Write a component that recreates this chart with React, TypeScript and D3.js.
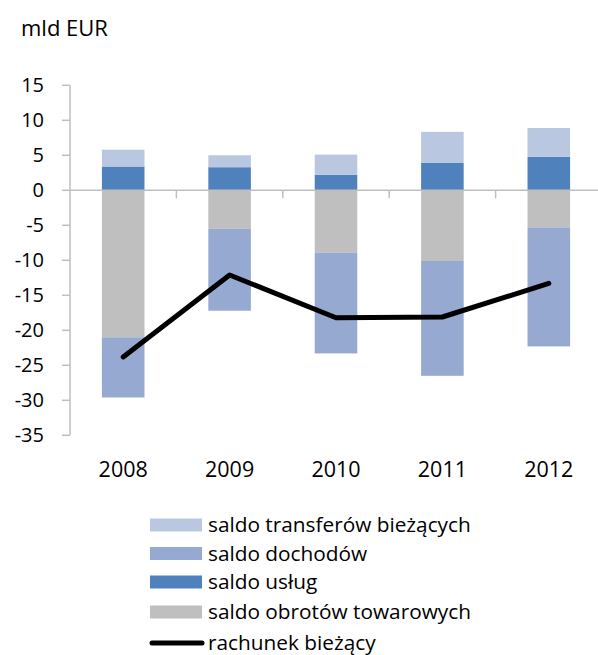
import { useEffect, useRef } from 'react';
import * as d3 from 'd3';

const years = ['2008', '2009', '2010', '2011', '2012'];
const goods = [-21.0, -5.5, -8.9, -10.1, -5.3];
const services = [3.4, 3.3, 2.2, 3.95, 4.8];
const income = [-8.6, -11.7, -14.4, -16.4, -17.0];
const transfers = [2.4, 1.7, 2.9, 4.4, 4.1];
const currentAccount = [-23.8, -12.1, -18.2, -18.1, -13.3];
const yTicks = [15, 10, 5, 0, -5, -10, -15, -20, -25, -30, -35];

const seriesInfo = [
  { key: 'transfers', label: 'saldo transferów bieżących', color: '#B9C7E1', values: transfers },
  { key: 'income', label: 'saldo dochodów', color: '#95A9D1', values: income },
  { key: 'services', label: 'saldo usług', color: '#4F81BD', values: services },
  { key: 'goods', label: 'saldo obrotów towarowych', color: '#BFBFBF', values: goods },
];

const FONT = '"Open Sans", Lato, sans-serif';

const App = () => {
  const svgRef = useRef<SVGSVGElement>(null);

  useEffect(() => {
    const width = 598;
    const height = 655;
    const svg = d3.select(svgRef.current);
    svg.selectAll('*').remove();
    svg.attr('width', width).attr('height', height);

    const x = d3.scaleBand().domain(years).range([70, 602]).paddingInner(0.6).paddingOuter(0.3);
    const y = d3.scaleLinear().domain([-35, 15]).range([435.3, 85.3]);

    svg.append('text')
      .attr('x', 21).attr('y', 35.5)
      .attr('font-family', FONT).attr('font-size', 22).attr('fill', '#000')
      .text('mld EUR');

    // stacked bars: positives stack upward, negatives downward
    const order = ['services', 'transfers', 'goods', 'income'];
    years.forEach((yr, i) => {
      let pos = 0;
      let neg = 0;
      order.forEach((k) => {
        const s = seriesInfo.find((d) => d.key === k)!;
        const v = s.values[i];
        let y0: number, y1: number;
        if (v >= 0) { y0 = pos; y1 = pos + v; pos = y1; } else { y0 = neg; y1 = neg + v; neg = y1; }
        svg.append('rect')
          .attr('x', x(yr)!)
          .attr('width', x.bandwidth())
          .attr('y', y(Math.max(y0, y1)))
          .attr('height', Math.abs(y(y0) - y(y1)))
          .attr('fill', s.color);
      });
    });

    // y axis
    const axisColor = '#BFBFBF';
    svg.append('line')
      .attr('x1', 70).attr('x2', 70).attr('y1', y(15)).attr('y2', y(-35))
      .attr('stroke', axisColor).attr('stroke-width', 1.5);
    yTicks.forEach((t) => {
      svg.append('line')
        .attr('x1', 62).attr('x2', 70).attr('y1', y(t)).attr('y2', y(t))
        .attr('stroke', axisColor).attr('stroke-width', 1.5);
      svg.append('text')
        .attr('x', 44).attr('y', y(t)).attr('dy', '0.35em')
        .attr('text-anchor', 'end')
        .attr('font-family', FONT).attr('font-size', 20).attr('fill', '#000')
        .text(t);
    });

    // x axis at zero
    svg.append('line')
      .attr('x1', 70).attr('x2', 602).attr('y1', y(0)).attr('y2', y(0))
      .attr('stroke', axisColor).attr('stroke-width', 1.5);
    years.forEach((yr, i) => {
      if (i > 0) {
        const xb = x(yr)! - x.step() * x.paddingInner() / 2;
        svg.append('line')
          .attr('x1', xb).attr('x2', xb).attr('y1', y(0)).attr('y2', y(0) + 8)
          .attr('stroke', axisColor).attr('stroke-width', 1.5);
      }
      svg.append('text')
        .attr('x', x(yr)! + x.bandwidth() / 2).attr('y', 476.5)
        .attr('text-anchor', 'middle')
        .attr('font-family', FONT).attr('font-size', 21.5).attr('fill', '#000')
        .text(yr);
    });

    // current account line
    const line = d3.line<number>()
      .x((_, i) => x(years[i])! + x.bandwidth() / 2)
      .y((d) => y(d));
    svg.append('path')
      .datum(currentAccount)
      .attr('d', line)
      .attr('fill', 'none')
      .attr('stroke', '#000')
      .attr('stroke-width', 5)
      .attr('stroke-linejoin', 'round')
      .attr('stroke-linecap', 'round');

    // legend
    const legendRows = [
      ...seriesInfo.map((s) => ({ label: s.label, color: s.color, isLine: false })),
      { label: 'rachunek bieżący', color: '#000', isLine: true },
    ];
    const rowY = [525, 553.5, 582, 612, 643];
    legendRows.forEach((r, i) => {
      const cy = rowY[i];
      if (r.isLine) {
        svg.append('line')
          .attr('x1', 152).attr('x2', 202).attr('y1', cy).attr('y2', cy)
          .attr('stroke', '#000').attr('stroke-width', 5).attr('stroke-linecap', 'round');
      } else {
        svg.append('rect')
          .attr('x', 150).attr('y', cy - 6.5).attr('width', 52).attr('height', 13)
          .attr('fill', r.color);
      }
      svg.append('text')
        .attr('x', 208).attr('y', cy).attr('dy', '0.35em')
        .attr('font-family', FONT).attr('font-size', 20.8).attr('fill', '#000')
        .text(r.label);
    });
  }, []);

  return <svg ref={svgRef} style={{ display: 'block', position: 'absolute', left: 0, top: 0 }} />;
};

export default App;
